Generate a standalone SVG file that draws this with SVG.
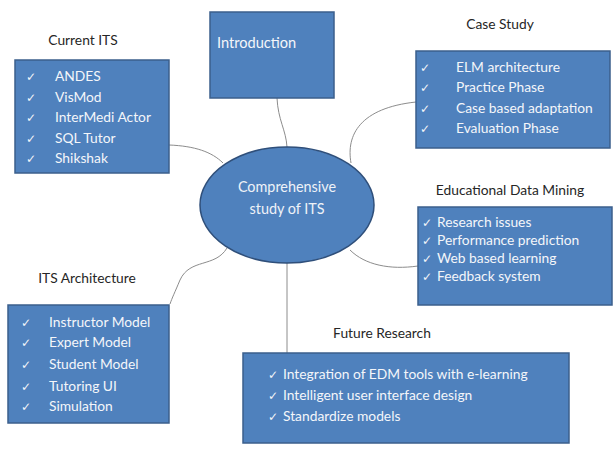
<svg xmlns="http://www.w3.org/2000/svg" width="614" height="450" viewBox="0 0 614 450">
  <style>
    .box { fill: #4f81bd; stroke: #3b5f8c; stroke-width: 1.5; }
    .hub { fill: #4f81bd; stroke: #2f4f7a; stroke-width: 1.5; }
    .title { font-family: Lato, "Open Sans", sans-serif; font-size: 13.8px; fill: #262626; text-anchor: middle; }
    .item { font-family: Lato, "Open Sans", sans-serif; font-size: 13.8px; fill: #f4f6fa; }
    .chk { font-family: "DejaVu Sans", sans-serif; font-size: 12px; fill: #f4f6fa; }
    .hubtxt { font-family: Lato, "Open Sans", sans-serif; font-size: 14.4px; fill: #eef2f8; text-anchor: middle; }
    .link { fill: none; stroke: #8c8c8c; stroke-width: 1; }
  </style>

  <rect width="614" height="450" fill="#ffffff"/>

  <!-- connectors from the central topic to each branch -->
  <g id="connectors">
    <path class="link" d="M277,98 C278,120 286,130 287,147"/>
    <path class="link" d="M351,163 C346,135 360,108 416,102"/>
    <path class="link" d="M169,145 C195,146 212,152 223,163"/>
    <path class="link" d="M227,248 C215,268 190,258 180,280 C175,292 172,298 170,304"/>
    <path class="link" d="M287,263 L287,353"/>
    <path class="link" d="M350,250 C365,265 390,270 418,266"/>
  </g>

  <g id="introduction">
    <rect class="box" x="210" y="12" width="124" height="86"/>
    <text class="item" x="217" y="48" style="font-size:14.6px">Introduction</text>
  </g>

  <g id="current-its">
    <text class="title" x="83" y="45">Current ITS</text>
    <rect class="box" x="15" y="60" width="154" height="113"/>
    <text class="chk" x="26" y="81">✓</text><text class="item" x="55" y="81">ANDES</text>
    <text class="chk" x="26" y="102">✓</text><text class="item" x="55" y="102">VisMod</text>
    <text class="chk" x="26" y="122">✓</text><text class="item" x="55" y="122">InterMedi Actor</text>
    <text class="chk" x="26" y="143">✓</text><text class="item" x="55" y="143">SQL Tutor</text>
    <text class="chk" x="26" y="163">✓</text><text class="item" x="55" y="163">Shikshak</text>
  </g>

  <g id="case-study">
    <text class="title" x="500" y="29">Case Study</text>
    <rect class="box" x="416" y="51" width="194" height="97"/>
    <text class="chk" x="420" y="72">✓</text><text class="item" x="456" y="72">ELM architecture</text>
    <text class="chk" x="420" y="92">✓</text><text class="item" x="456" y="92">Practice Phase</text>
    <text class="chk" x="420" y="113">✓</text><text class="item" x="456" y="113">Case based adaptation</text>
    <text class="chk" x="420" y="133">✓</text><text class="item" x="456" y="133">Evaluation Phase</text>
  </g>

  <g id="central-topic">
    <ellipse class="hub" cx="287" cy="205" rx="87" ry="58"/>
    <text class="hubtxt" x="287" y="192">Comprehensive</text>
    <text class="hubtxt" x="287" y="214">study of ITS</text>
  </g>

  <g id="educational-data-mining">
    <text class="title" x="510" y="195">Educational Data Mining</text>
    <rect class="box" x="418" y="207" width="194" height="98"/>
    <text class="chk" x="422" y="227">✓</text><text class="item" x="437" y="227">Research issues</text>
    <text class="chk" x="422" y="245">✓</text><text class="item" x="437" y="245">Performance prediction</text>
    <text class="chk" x="422" y="263">✓</text><text class="item" x="437" y="263">Web based learning</text>
    <text class="chk" x="422" y="281">✓</text><text class="item" x="437" y="281">Feedback system</text>
  </g>

  <g id="its-architecture">
    <text class="title" x="87" y="283">ITS Architecture</text>
    <rect class="box" x="8" y="305" width="161" height="118"/>
    <text class="chk" x="21" y="327">✓</text><text class="item" x="49" y="327">Instructor Model</text>
    <text class="chk" x="21" y="347">✓</text><text class="item" x="49" y="347">Expert Model</text>
    <text class="chk" x="21" y="369">✓</text><text class="item" x="49" y="369">Student Model</text>
    <text class="chk" x="21" y="391">✓</text><text class="item" x="49" y="391">Tutoring UI</text>
    <text class="chk" x="21" y="411">✓</text><text class="item" x="49" y="411">Simulation</text>
  </g>

  <g id="future-research">
    <text class="title" x="382" y="338">Future Research</text>
    <rect class="box" x="243" y="353" width="326" height="90"/>
    <text class="chk" x="268" y="379">✓</text><text class="item" x="283" y="379">Integration of EDM tools with e-learning</text>
    <text class="chk" x="268" y="400">✓</text><text class="item" x="283" y="400">Intelligent user interface design</text>
    <text class="chk" x="268" y="421">✓</text><text class="item" x="283" y="421">Standardize models</text>
  </g>
</svg>
